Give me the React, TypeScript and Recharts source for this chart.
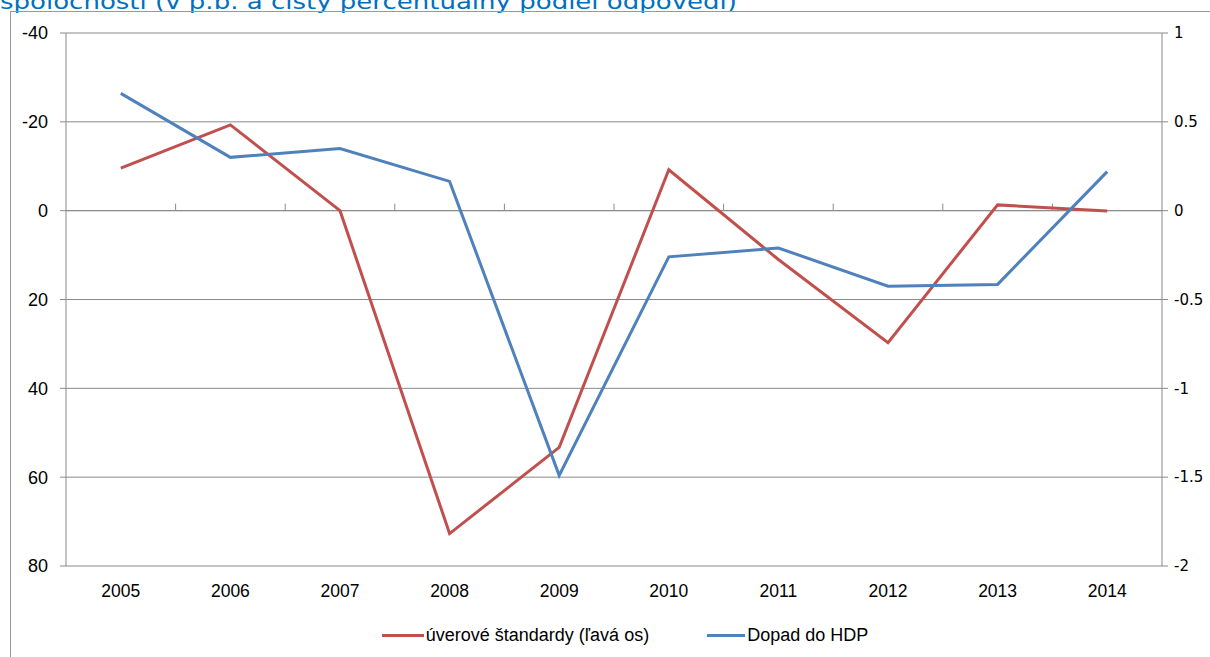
import React from "react";
import {
  CartesianGrid,
  Legend,
  Line,
  LineChart,
  ReferenceLine,
  XAxis,
  YAxis,
} from "recharts";

const years = ["2005", "2006", "2007", "2008", "2009", "2010", "2011", "2012", "2013", "2014"];
// credit standards, net percentage (left axis, reversed)
const creditStandards = [-9.6, -19.3, 0, 72.7, 53.3, -9.2, 11, 29.7, -1.3, 0.1];
// impact on GDP, p.p. (right axis)
const gdpImpact = [0.66, 0.3, 0.35, 0.165, -1.49, -0.26, -0.21, -0.425, -0.415, 0.22];

const leftTicks = [-40, -20, 0, 20, 40, 60, 80];
const rightTicks = [1, 0.5, 0, -0.5, -1, -1.5, -2];

const RED = "#C0504D";
const BLUE = "#4F81BD";
const GRID = "#8a8a8a";
const NARROW = "'Liberation Sans Narrow', 'Liberation Sans', Arial, sans-serif";
const WIDE = "'DejaVu Sans', Verdana, sans-serif";

const data = years.map((year, i) => ({
  year,
  credit: creditStandards[i],
  gdp: gdpImpact[i],
}));

// zero line with Excel-style tick marks between categories
const ZeroAxis = (props: any) => {
  const { x1, y1, x2 } = props;
  const n = years.length;
  const step = (x2 - x1) / n;
  const marks = [];
  for (let k = 1; k < n; k++) {
    const x = x1 + k * step;
    marks.push(<line key={k} x1={x} y1={y1 - 7} x2={x} y2={y1} stroke={GRID} strokeWidth={1} />);
  }
  return (
    <g>
      <line x1={x1} y1={y1} x2={x2} y2={y1} stroke={GRID} strokeWidth={1} />
      {marks}
    </g>
  );
};

const LegendContent = () => (
  <div
    style={{
      display: "flex",
      justifyContent: "center",
      alignItems: "center",
      height: 24,
      paddingLeft: 40,
      fontFamily: NARROW,
      fontSize: 18,
      color: "#000",
    }}
  >
    <span style={{ display: "inline-block", width: 42, height: 3, background: RED, marginRight: 2 }} />
    <span>úverové štandardy (ľavá os)</span>
    <span style={{ display: "inline-block", width: 38, height: 3, background: BLUE, marginLeft: 58, marginRight: 2 }} />
    <span>Dopad do HDP</span>
  </div>
);

export default function App() {
  return (
    <div style={{ position: "absolute", left: 0, top: 0, width: 1210, height: 657, overflow: "hidden", background: "#fff" }}>
      <svg width={1210} height={20} style={{ position: "absolute", left: 0, top: 0 }}>
        <text x={0} y={9} fontFamily={WIDE} fontSize={21} fill="#0070C0" textLength={737} lengthAdjust="spacingAndGlyphs">
          spoločnosti (v p.b. a čistý percentuálny podiel odpovedí)
        </text>
      </svg>
      <div
        style={{
          position: "absolute",
          left: 10,
          top: 11,
          width: 1220,
          height: 700,
          border: "1px solid #999",
          boxSizing: "border-box",
        }}
      />
      <div style={{ position: "absolute", left: 0, top: 0 }}>
        <LineChart width={1210} height={657} data={data} margin={{ top: 33, right: 0, left: 0, bottom: 10 }}>
          <CartesianGrid yAxisId="left" vertical={false} stroke={GRID} strokeDasharray="" />
          <XAxis
            dataKey="year"
            scale="band"
            axisLine={false}
            tickLine={false}
            height={57}
            tickSize={6}
            tickMargin={13}
            tick={{ fill: "#000", fontSize: 17.5, fontFamily: NARROW }}
            interval={0}
          />
          <YAxis
            yAxisId="left"
            reversed
            domain={[-40, 80]}
            ticks={leftTicks}
            width={66}
            tickSize={6}
            tickMargin={12}
            stroke={GRID}
            tick={{ fill: "#000", fontSize: 18, fontFamily: NARROW }}
            allowDataOverflow
          />
          <YAxis
            yAxisId="right"
            orientation="right"
            domain={[-2, 1]}
            ticks={rightTicks}
            width={48}
            tickSize={6}
            tickMargin={6}
            stroke={GRID}
            tick={{ fill: "#000", fontSize: 15, fontFamily: WIDE, textAnchor: "start" }}
            allowDataOverflow
          />
          <ReferenceLine yAxisId="left" y={0} shape={ZeroAxis} />
          <Legend verticalAlign="bottom" height={24} content={LegendContent} />
          <Line
            yAxisId="left"
            type="linear"
            dataKey="credit"
            name="úverové štandardy (ľavá os)"
            stroke={RED}
            strokeWidth={3}
            dot={false}
            isAnimationActive={false}
          />
          <Line
            yAxisId="right"
            type="linear"
            dataKey="gdp"
            name="Dopad do HDP"
            stroke={BLUE}
            strokeWidth={3}
            dot={false}
            isAnimationActive={false}
          />
        </LineChart>
      </div>
    </div>
  );
}
